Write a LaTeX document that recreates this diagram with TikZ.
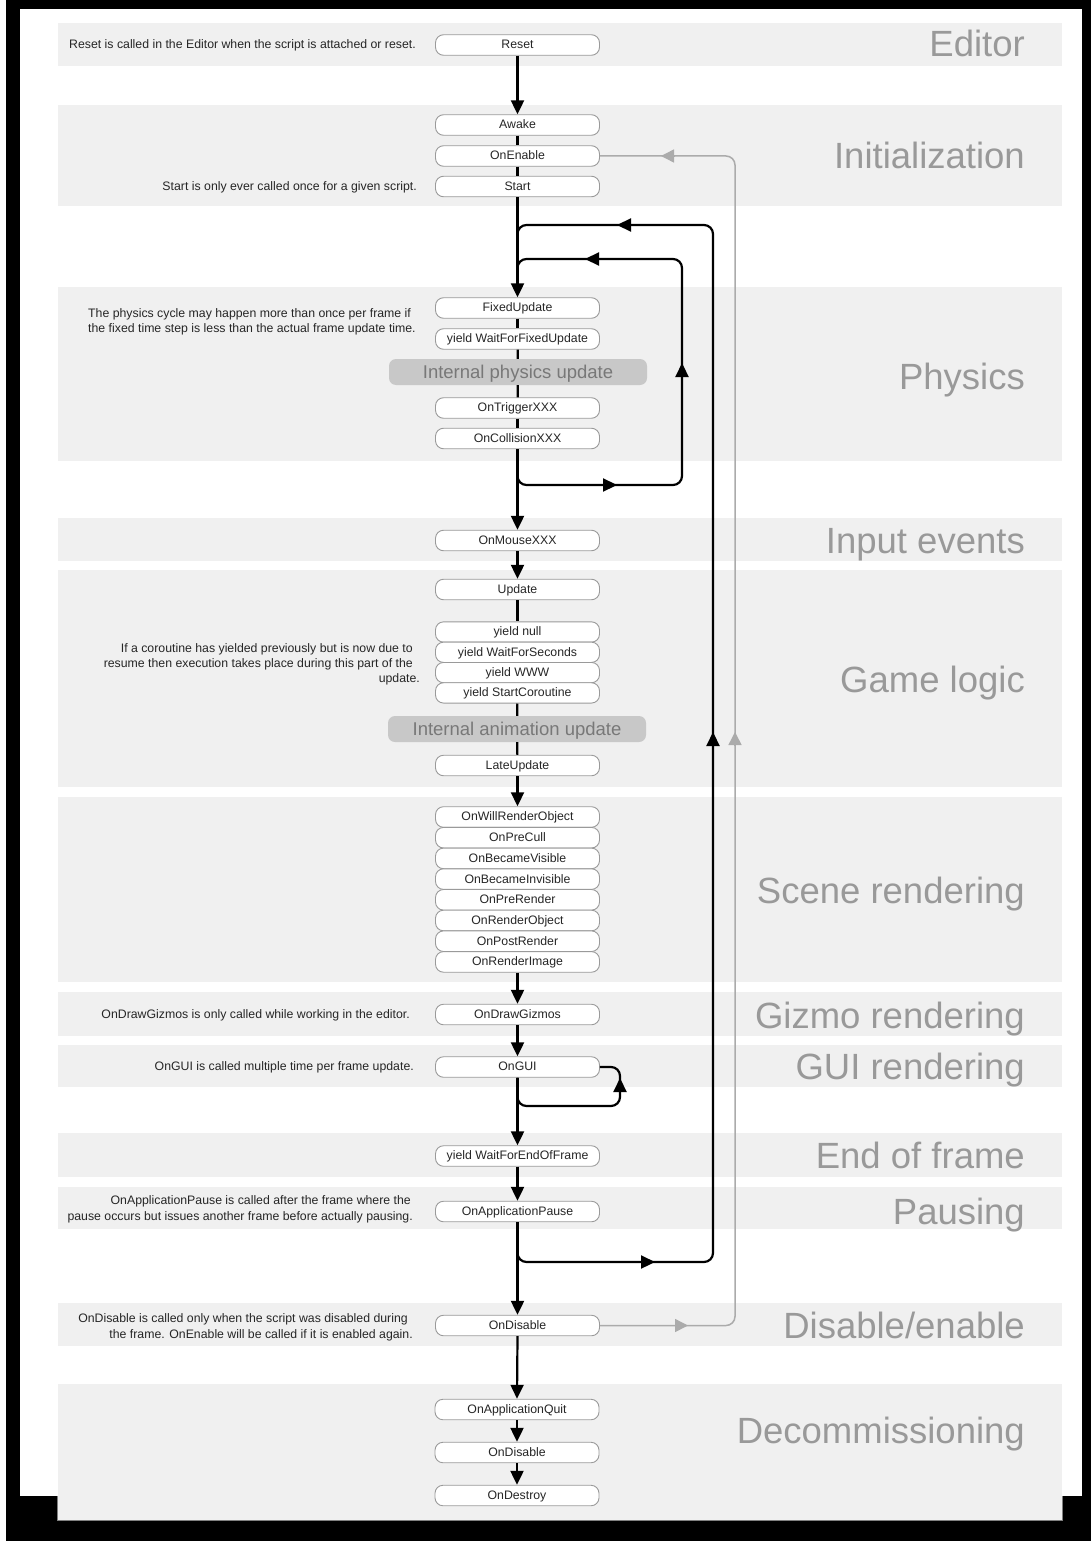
\documentclass[tikz,border=0pt]{standalone}
\usepackage{fontspec}
\setmainfont{Liberation Sans}
\usetikzlibrary{arrows.meta}
\definecolor{bandgray}{HTML}{F0F0F0}
\definecolor{boxborder}{HTML}{9A9A9A}
\definecolor{titlegray}{HTML}{999999}
\definecolor{intfill}{HTML}{C8C8C8}
\definecolor{inttext}{HTML}{787878}
\definecolor{loopgray}{HTML}{ABABAB}
\definecolor{notetext}{HTML}{262626}
\begin{document}
\begin{tikzpicture}[x=1pt,y=-1pt,
  band/.style={fill=bandgray, draw=none},
  fbox/.style={draw=boxborder, line width=0.9pt, fill=white, rounded corners=8pt,
    minimum width=164pt, minimum height=20.5pt, inner sep=0pt,
    text height=8.8pt, text depth=1pt, text=notetext,
    font=\fontsize{12.3}{14}\selectfont},
  sbox/.style={fbox, minimum height=20.6pt},
  intbox/.style={fill=intfill, rounded corners=7pt, minimum width=258pt,
    minimum height=26pt, inner sep=0pt, text=inttext,
    text height=13pt, text depth=1pt, font=\fontsize{18.5}{20}\selectfont},
  title/.style={anchor=base east, inner sep=0pt, text=titlegray,
    font=\fontsize{36.5}{40}\selectfont},
  note/.style={anchor=base east, inner sep=0pt, text=notetext,
    font=\fontsize{12.3}{15}\selectfont},
  notel/.style={note, anchor=base west},
  plain/.style={line width=2.2pt, black},
  flow/.style={plain, -{Triangle[length=14pt,width=13pt]}},
  loopline/.style={plain, rounded corners=9pt},
  tipb/.style={plain, -{Triangle[length=14pt,width=13pt]}},
  gline/.style={line width=1.5pt, loopgray, rounded corners=9pt},
  tipg/.style={line width=1.5pt, loopgray, -{Triangle[length=13pt,width=13pt]}}
]
\useasboundingbox (0,0) rectangle (1091,1541);
% page and frame
\fill[black] (6,0) rectangle (1091,1541);
\fill[white] (20,9) rectangle (1082,1496);
% bands
\fill[band] (58,23) rectangle (1062,66);
\fill[band] (58,105) rectangle (1062,206);
\fill[band] (58,287) rectangle (1062,461);
\fill[band] (58,518) rectangle (1062,561);
\fill[band] (58,570) rectangle (1062,787);
\fill[band] (58,797) rectangle (1062,982);
\fill[band] (58,992) rectangle (1062,1036);
\fill[band] (58,1045) rectangle (1062,1087);
\fill[band] (58,1133) rectangle (1062,1177);
\fill[band] (58,1187) rectangle (1062,1229);
\fill[band] (58,1303) rectangle (1062,1346);
\fill[band] (58,1384) rectangle (1062,1520);
\draw[gray, line width=0.8pt] (57.6,1496) -- (57.6,1520.4) -- (1062.4,1520.4) -- (1062.4,1496);

% titles
\node[title] (tEditor) at (1025,57) {Editor};
\node[title] (tInit) at (1025,169) {Initialization};
\node[title] (tPhys) at (1025,389) {Physics};
\node[title] (tInput) at (1025,553) {Input events};
\node[title] (tGame) at (1025,692) {Game logic};
\node[title] (tScene) at (1025,903) {Scene rendering};
\node[title] (tGizmo) at (1025,1028) {Gizmo rendering};
\node[title] (tGUI) at (1025,1079) {GUI rendering};
\node[title] (tEnd) at (1025,1168) {End of frame};
\node[title] (tPause) at (1025,1224) {Pausing};
\node[title] (tDisable) at (1025,1338) {Disable/enable};
\node[title] (tDecom) at (1025,1443) {Decommissioning};

% notes
\node[note] (nReset) at (416,48.5) {Reset is called in the Editor when the script is attached or reset.};
\node[note] (nStart) at (417,190.5) {Start is only ever called once for a given script.};
\node[notel] (nPhys1) at (88,317.5) {The physics cycle may happen more than once per frame if};
\node[notel] (nPhys2) at (88,332.5) {the fixed time step is less than the actual frame update time.};
\node[note] (nGame1) at (413,652.5) {If a coroutine has yielded previously but is now due to};
\node[note] (nGame2) at (413,667.5) {resume then execution takes place during this part of the};
\node[note] (nGame3) at (420,682.5) {update.};
\node[note] (nGizmo) at (410,1018.5) {OnDrawGizmos is only called while working in the editor.};
\node[note] (nGUI) at (414,1070.5) {OnGUI is called multiple time per frame update.};
\node[note] (nPause1) at (411,1204.5) {OnApplicationPause is called after the frame where the};
\node[note] (nPause2) at (413,1220) {pause occurs but issues another frame before actually pausing.};
\node[note] (nDis1) at (408,1322.5) {OnDisable is called only when the script was disabled during};
\node[note] (nDis2) at (413,1338) {the frame. OnEnable will be called if it is enabled again.};

% boxes
\node[fbox] (reset) at (517.5,45) {Reset};
\node[fbox] (awake) at (517.5,125) {Awake};
\node[fbox] (onenable) at (517.5,156) {OnEnable};
\node[fbox] (start) at (517.5,186.5) {Start};
\node[fbox] (fixed) at (517.5,308) {FixedUpdate};
\node[fbox] (wffu) at (517.5,339) {yield WaitForFixedUpdate};
\node[intbox] (phys) at (518,372) {Internal physics update};
\node[fbox] (trigger) at (517.5,408) {OnTriggerXXX};
\node[fbox] (collision) at (517.5,438.5) {OnCollisionXXX};
\node[fbox] (mouse) at (517.5,540.5) {OnMouseXXX};
\node[fbox] (update) at (517.5,589.5) {Update};
\node[sbox, minimum height=20.3pt] (ynull) at (517.5,632) {yield null};
\node[sbox, minimum height=20.3pt] (ywfs) at (517.5,652.3) {yield WaitForSeconds};
\node[sbox, minimum height=20.3pt] (ywww) at (517.5,672.6) {yield WWW};
\node[sbox, minimum height=20.3pt] (ysc) at (517.5,692.9) {yield StartCoroutine};
\node[intbox] (anim) at (517,729) {Internal animation update};
\node[fbox] (late) at (517.5,765.5) {LateUpdate};
\node[sbox] (willrender) at (517.5,817) {OnWillRenderObject};
\node[sbox] (precull) at (517.5,837.7) {OnPreCull};
\node[sbox] (visible) at (517.5,858.4) {OnBecameVisible};
\node[sbox] (invisible) at (517.5,879.1) {OnBecameInvisible};
\node[sbox] (prerender) at (517.5,899.8) {OnPreRender};
\node[sbox] (renderobj) at (517.5,920.5) {OnRenderObject};
\node[sbox] (postrender) at (517.5,941.2) {OnPostRender};
\node[sbox] (renderimg) at (517.5,961.9) {OnRenderImage};
\node[fbox] (gizmos) at (517.5,1014.5) {OnDrawGizmos};
\node[fbox] (gui) at (517.5,1067) {OnGUI};
\node[fbox] (eof) at (517.5,1156) {yield WaitForEndOfFrame};
\node[fbox] (pause) at (517.5,1211.5) {OnApplicationPause};
\node[fbox] (disable) at (517.5,1325.5) {OnDisable};
\node[fbox] (quit) at (517,1409.5) {OnApplicationQuit};
\node[fbox] (disable2) at (517,1452.5) {OnDisable};
\node[fbox] (destroy) at (517,1495.5) {OnDestroy};

% loop corner coordinates
\coordinate (innerTopEnd) at (517.5,280);
\coordinate (outerTopEnd) at (517.5,250);
\coordinate (innerR) at (682,485);
\coordinate (outerR) at (713,1262);
\coordinate (guiR) at (620,1106);
\coordinate (grayR) at (735,1325.5);

% gray enable/disable loop
\draw[gline] (disable.east) -- (grayR) -- (735,156) -- (onenable.east);
\draw[tipg] (674,1325.5) -- (688,1325.5);
\draw[tipg] (735,745) -- (735,732);
\draw[tipg] (675,156) -- (661,156);

% physics loop
\draw[loopline] (collision.south) |- (innerR) -- (682,259) -- (517.5,259) -- (innerTopEnd);
\draw[tipb] (603,485) -- (617,485);
\draw[tipb] (682,377) -- (682,363);
\draw[tipb] (599,259) -- (585,259);

% frame loop
\draw[loopline] (pause.south) |- (outerR) -- (713,225) -- (517.5,225) -- (outerTopEnd);
\draw[tipb] (641,1262) -- (655,1262);
\draw[tipb] (713,746) -- (713,732);
\draw[tipb] (631,225) -- (617,225);

% GUI loop
\draw[loopline] (gui.south) |- (guiR) -- (620,1067) -- (gui.east);
\draw[tipb] (620,1092) -- (620,1078);

% main flow
\draw[flow] (reset) -- (awake);
\draw[plain] (awake) -- (onenable);
\draw[plain] (onenable) -- (start);
\draw[flow] (start) -- (fixed);
\draw[plain] (fixed) -- (wffu);
\draw[plain] (wffu) -- (phys);
\draw[plain] (phys) -- (trigger);
\draw[plain] (trigger) -- (collision);
\draw[flow] (collision) -- (mouse);
\draw[flow] (mouse) -- (update);
\draw[plain] (update) -- (ynull);
\draw[plain] (ysc) -- (anim);
\draw[plain] (anim) -- (late);
\draw[flow] (late) -- (willrender);
\draw[flow] (renderimg) -- (gizmos);
\draw[flow] (gizmos) -- (gui);
\draw[flow] (gui) -- (eof);
\draw[flow] (eof) -- (pause);
\draw[flow] (pause) -- (disable);
\draw[flow] (disable.south) -- (quit.north);
\draw[flow] (quit) -- (disable2);
\draw[flow] (disable2) -- (destroy);
\end{tikzpicture}
\end{document}
